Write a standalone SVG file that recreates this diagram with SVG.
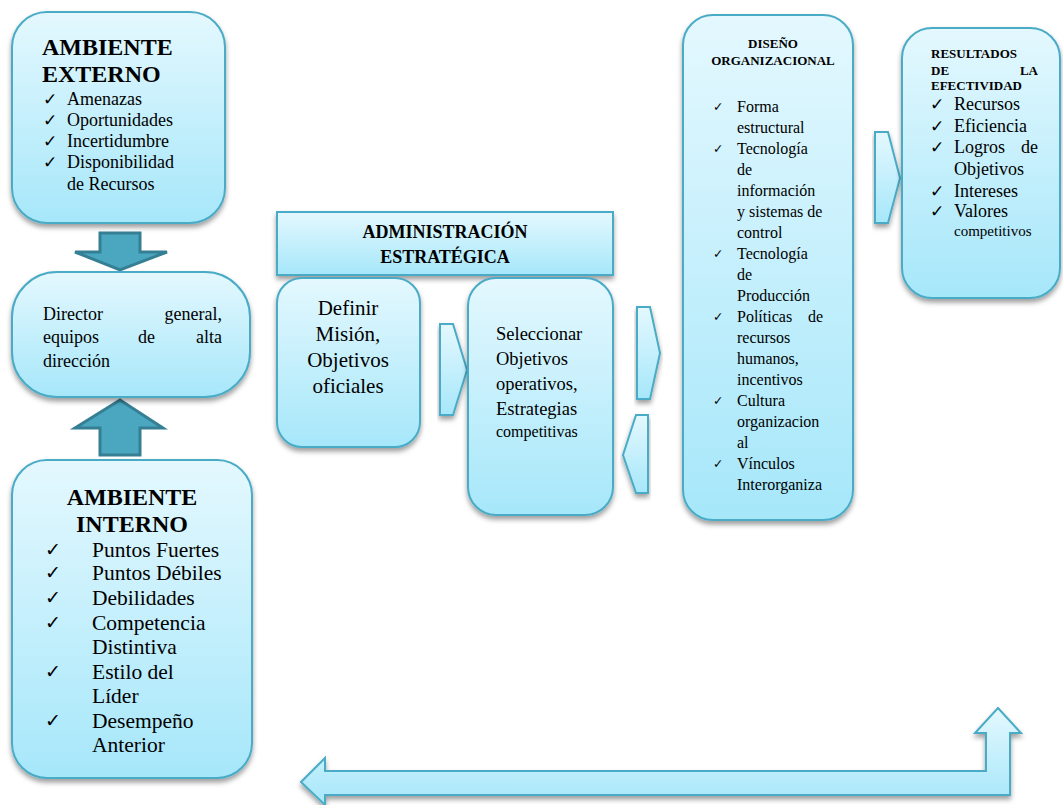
<svg xmlns="http://www.w3.org/2000/svg" width="1063" height="805" viewBox="0 0 1063 805" font-family="Liberation Serif, Times New Roman, serif">
  <defs>
    <linearGradient id="cyan" x1="0" y1="0" x2="0" y2="1">
      <stop offset="0" stop-color="#E4F8FE"/>
      <stop offset="1" stop-color="#A6E7FA"/>
    </linearGradient>
    <filter id="shadow" x="-10%" y="-10%" width="120%" height="125%">
      <feDropShadow dx="0" dy="3.5" stdDeviation="2.5" flood-color="#000" flood-opacity="0.38"/>
    </filter>
    <style>
      .box { fill: url(#cyan); stroke: #4AABC6; stroke-width: 2; filter: url(#shadow); }
      .dark { fill: #4BA6C0; stroke: #357F94; stroke-width: 3; }
      .b { font-weight: bold; }
    </style>
  </defs>

  <!-- connectors: thick block arrows and chevrons -->
  <g id="connectors">
    <polygon class="dark" points="100,233 140,233 140,252 167,252 120,270 75,252 100,252"/>
    <polygon class="dark" points="120,400 163,428 140,428 140,455 100,455 100,428 75,428"/>
    <polygon class="box" points="440,324 453,324 467,370 453,415 440,415"/>
    <polygon class="box" points="637,307 650,307 660,353 650,399 637,399"/>
    <polygon class="box" points="648,415 636,415 623,455 636,493 648,493"/>
    <polygon class="box" points="875,132 888,132 900,178 888,223 875,223"/>
    <polygon class="box" points="301,782 325,758 325,771 986,771 986,733 975,733 998,708 1021,733 1010,733 1010,795 325,795 325,805"/>
  </g>

  <g id="ambiente-externo">
    <rect class="box" x="12" y="12" width="213" height="211" rx="35"/>
    <text class="b" x="42" y="55" font-size="24">AMBIENTE</text>
    <text class="b" x="42" y="82" font-size="24">EXTERNO</text>
    <g font-size="18">
      <g font-family="DejaVu Sans, sans-serif" font-size="17">
        <text x="43" y="105">✓</text><text x="43" y="126">✓</text><text x="43" y="147">✓</text><text x="43" y="168">✓</text>
      </g>
      <text x="67" y="105">Amenazas</text>
      <text x="67" y="126">Oportunidades</text>
      <text x="67" y="147">Incertidumbre</text>
      <text x="67" y="168">Disponibilidad</text>
      <text x="67" y="190">de Recursos</text>
    </g>
  </g>

  <g id="director">
    <rect class="box" x="12" y="272" width="238" height="125" rx="45"/>
    <g font-size="18">
      <text x="43" y="320">Director</text><text x="222" y="320" text-anchor="end">general,</text>
      <text x="43" y="343">equipos</text><text x="138" y="343">de</text><text x="222" y="343" text-anchor="end">alta</text>
      <text x="43" y="367">dirección</text>
    </g>
  </g>

  <g id="ambiente-interno">
    <rect class="box" x="12" y="460" width="240" height="318" rx="35"/>
    <text class="b" x="132" y="505" font-size="24" text-anchor="middle">AMBIENTE</text>
    <text class="b" x="132" y="532" font-size="24" text-anchor="middle">INTERNO</text>
    <g font-size="21.5">
      <g font-family="DejaVu Sans, sans-serif" font-size="19">
        <text x="45" y="556">✓</text><text x="45" y="579">✓</text><text x="45" y="604">✓</text>
        <text x="45" y="629">✓</text><text x="45" y="678">✓</text><text x="45" y="727">✓</text>
      </g>
      <text x="92" y="557">Puntos Fuertes</text>
      <text x="92" y="580">Puntos Débiles</text>
      <text x="92" y="605">Debilidades</text>
      <text x="92" y="630">Competencia</text>
      <text x="92" y="654">Distintiva</text>
      <text x="92" y="679">Estilo del</text>
      <text x="92" y="703">Líder</text>
      <text x="92" y="728">Desempeño</text>
      <text x="92" y="752">Anterior</text>
    </g>
  </g>

  <g id="administracion">
    <rect class="box" x="277" y="212" width="336" height="63"/>
    <text class="b" x="445" y="238" font-size="18" text-anchor="middle">ADMINISTRACIÓN</text>
    <text class="b" x="445" y="263" font-size="18" text-anchor="middle">ESTRATÉGICA</text>
  </g>

  <g id="definir">
    <rect class="box" x="277" y="278" width="143" height="169" rx="25"/>
    <g font-size="21" text-anchor="middle">
      <text x="348" y="315">Definir</text>
      <text x="348" y="341">Misión,</text>
      <text x="348" y="367">Objetivos</text>
      <text x="348" y="393">oficiales</text>
    </g>
  </g>

  <g id="seleccionar">
    <rect class="box" x="468" y="278" width="145" height="237" rx="28"/>
    <g font-size="18.5">
      <text x="496" y="340">Seleccionar</text>
      <text x="496" y="365">Objetivos</text>
      <text x="496" y="390">operativos,</text>
      <text x="496" y="415">Estrategias</text>
      <text x="496" y="437" font-size="16">competitivas</text>
    </g>
  </g>

  <g id="diseno">
    <rect class="box" x="683" y="15" width="170" height="505" rx="30"/>
    <text class="b" x="773" y="48" font-size="13" text-anchor="middle">DISEÑO</text>
    <text class="b" x="773" y="65" font-size="13" text-anchor="middle">ORGANIZACIONAL</text>
    <g font-size="16">
      <g font-family="DejaVu Sans, sans-serif" font-size="12.5">
        <text x="713" y="111">✓</text><text x="713" y="153">✓</text><text x="713" y="258">✓</text>
        <text x="713" y="321">✓</text><text x="713" y="405">✓</text><text x="713" y="468">✓</text>
      </g>
      <text x="737" y="112">Forma</text>
      <text x="737" y="133">estructural</text>
      <text x="737" y="154">Tecnología</text>
      <text x="737" y="175">de</text>
      <text x="737" y="196">información</text>
      <text x="737" y="217">y sistemas de</text>
      <text x="737" y="238">control</text>
      <text x="737" y="259">Tecnología</text>
      <text x="737" y="280">de</text>
      <text x="737" y="301">Producción</text>
      <text x="737" y="322">Políticas</text><text x="823" y="322" text-anchor="end">de</text>
      <text x="737" y="343">recursos</text>
      <text x="737" y="364">humanos,</text>
      <text x="737" y="385">incentivos</text>
      <text x="737" y="406">Cultura</text>
      <text x="737" y="427">organizacion</text>
      <text x="737" y="448">al</text>
      <text x="737" y="469">Vínculos</text>
      <text x="737" y="490">Interorganiza</text>
    </g>
  </g>

  <g id="resultados">
    <rect class="box" x="902" y="28" width="158" height="270" rx="30"/>
    <g class="b" font-size="13">
      <text x="931" y="58">RESULTADOS</text>
      <text x="931" y="75">DE</text><text x="1038" y="75" text-anchor="end">LA</text>
      <text x="931" y="90">EFECTIVIDAD</text>
    </g>
    <g font-size="18">
      <g font-family="DejaVu Sans, sans-serif" font-size="17">
        <text x="930" y="110">✓</text><text x="930" y="132">✓</text><text x="930" y="153">✓</text>
        <text x="930" y="197">✓</text><text x="930" y="217">✓</text>
      </g>
      <text x="954" y="110">Recursos</text>
      <text x="954" y="132">Eficiencia</text>
      <text x="954" y="153">Logros</text><text x="1038" y="153" text-anchor="end">de</text>
      <text x="954" y="175">Objetivos</text>
      <text x="954" y="197">Intereses</text>
      <text x="954" y="217">Valores</text>
      <text x="954" y="236" font-size="15">competitivos</text>
    </g>
  </g>
</svg>
